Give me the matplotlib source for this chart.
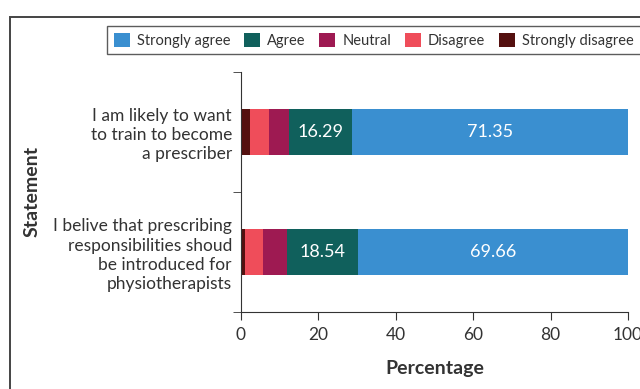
import matplotlib
matplotlib.use("Agg")
import matplotlib.pyplot as plt
from matplotlib.patches import Rectangle

plt.rcParams['font.family'] = ['Lato', 'DejaVu Sans']

statements = [
    "I belive that prescribing\nresponsibilities shoud\nbe introduced for\nphysiotherapists",
    "I am likely to want\nto train to become\na prescriber",
]
categories = ["Strongly disagree", "Disagree", "Neutral", "Agree", "Strongly agree"]
strongly_disagree = [1.12, 2.25]
disagree = [4.49, 5.06]
neutral = [6.18, 5.06]
agree = [18.54, 16.29]
strongly_agree = [69.66, 71.35]
series = [strongly_disagree, disagree, neutral, agree, strongly_agree]
colors = ["#54100F", "#EF4D5A", "#9E1A52", "#10605C", "#3A8FD0"]
labelled = {"Agree", "Strongly agree"}
xticks = [0, 20, 40, 60, 80, 100]

TXT = "#333333"

fig = plt.figure(figsize=(6.4, 3.89), dpi=100)
ax = fig.add_axes([241 / 640, 1 - 312 / 389, 387 / 640, 240 / 389])

# outer frame around the whole figure
fig.patches.append(Rectangle((10 / 640, -0.1), 1.0, 1 - 17 / 389 + 0.1,
                             transform=fig.transFigure, fill=False,
                             edgecolor="#444444", linewidth=1.4, clip_on=False))

ypos = list(range(len(statements)))
left = [0.0] * len(statements)
bars = {}
for name, vals, col in zip(categories, series, colors):
    b = ax.barh(ypos, vals, left=left, height=0.38, color=col, label=name)
    bars[name] = b
    if name in labelled:
        for y, l, v in zip(ypos, left, vals):
            ax.text(l + v / 2, y, f"{v:.2f}", ha="center", va="center",
                    color="white", fontsize=13)
    left = [l + v for l, v in zip(left, vals)]

ax.set_xlim(0, 100)
ax.set_ylim(-0.5, 1.5)
ax.set_xticks(xticks)
ax.set_xticklabels([str(t) for t in xticks], fontsize=12.5, color=TXT)
ax.set_yticks(ypos)
ax.set_yticklabels(statements, fontsize=12.5, color=TXT, linespacing=1.25)
ax.tick_params(axis="y", length=0, pad=6.5)
ax.set_yticks([-0.5, 0.5, 1.5], minor=True)
ax.tick_params(axis="y", which="minor", length=6, color=TXT)
ax.tick_params(axis="x", length=6, color=TXT, pad=5)
for s in ("top", "right"):
    ax.spines[s].set_visible(False)
for s in ("left", "bottom"):
    ax.spines[s].set_color(TXT)

ax.set_xlabel("Percentage", fontsize=14, fontweight="bold", color=TXT, labelpad=12)
fig.text(32 / 640, 1 - 191 / 389, "Statement", rotation=90, fontsize=14,
         fontweight="bold", color=TXT, ha="center", va="center")

handles = [bars[n] for n in reversed(categories)]
labels = list(reversed(categories))
leg = fig.legend(handles, labels, loc="upper left",
                 bbox_to_anchor=(107 / 640, 1 - 26 / 389), ncol=5,
                 fontsize=10.5, frameon=True, fancybox=False,
                 edgecolor="#333333", handlelength=1.1, handleheight=1.1,
                 handletextpad=0.48, columnspacing=0.95, borderpad=0.45,
                 borderaxespad=0)
leg.get_frame().set_linewidth(1.0)
for t in leg.get_texts():
    t.set_color(TXT)

fig.savefig("out.png", dpi=100)
